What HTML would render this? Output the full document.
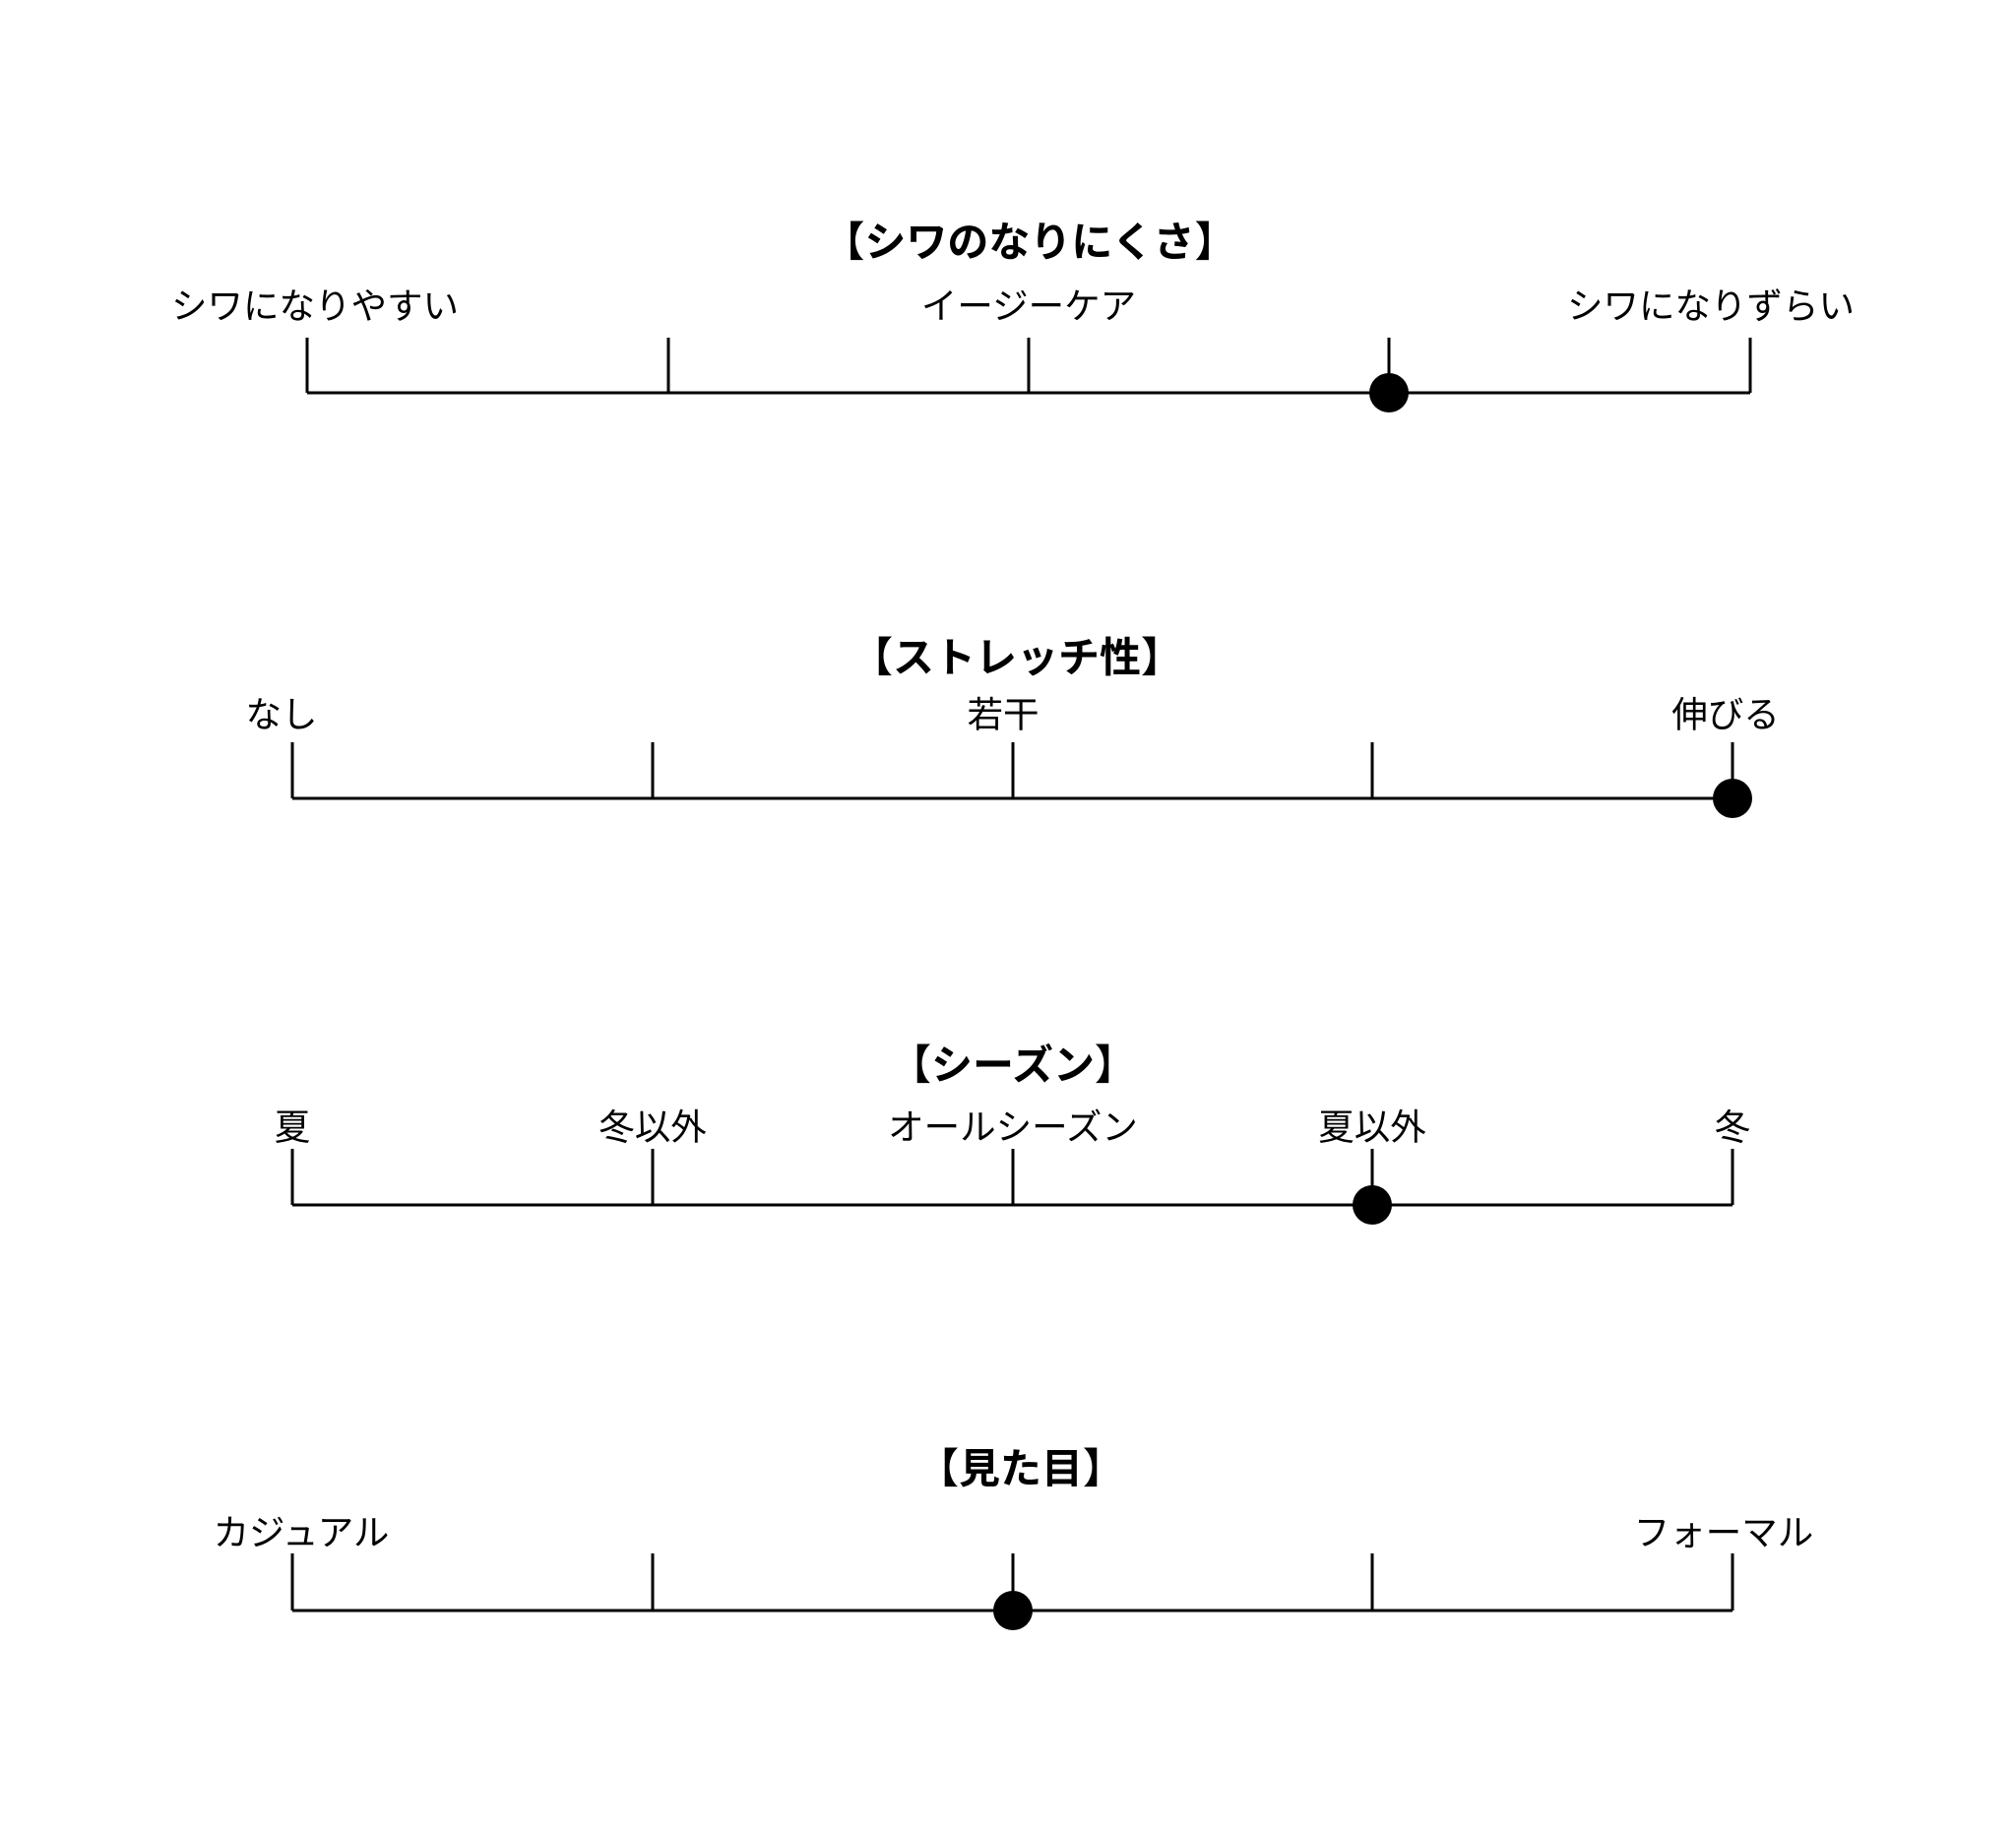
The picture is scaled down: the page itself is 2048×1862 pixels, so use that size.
<!DOCTYPE html>
<html><head><meta charset="utf-8"><style>
html,body{margin:0;padding:0;background:#fff;}
svg{display:block}
text{font-family:"Liberation Sans","Noto Sans CJK JP",sans-serif;fill:#000;text-anchor:middle;dominant-baseline:central}
.t{font-size:42px;font-weight:bold}
.l{font-size:36.5px}
</style></head><body>
<svg width="2048" height="1862" viewBox="0 0 2048 1862" xmlns="http://www.w3.org/2000/svg">
<g stroke="#000" stroke-width="3" fill="none">
<path d="M312 399H1778M312 343V399M679 343V399M1045 343V399M1411 343V399M1778 343V399"/>
<path d="M297 811H1760M297 754V811M663 754V811M1029 754V811M1394 754V811M1760 754V811"/>
<path d="M297 1224H1760M297 1167V1224M663 1167V1224M1029 1167V1224M1394 1167V1224M1760 1167V1224"/>
<path d="M297 1636H1760M297 1578V1636M663 1578V1636M1029 1578V1636M1394 1578V1636M1760 1578V1636"/>
</g>
<circle cx="1411" cy="399" r="20"/>
<circle cx="1760" cy="811" r="20"/>
<circle cx="1394" cy="1224" r="20"/>
<circle cx="1029" cy="1636" r="20"/>
<text class="t" x="1046" y="246">【シワのなりにくさ】</text>
<text class="l" x="320" y="311">シワになりやすい</text>
<text class="l" x="1045" y="311">イージーケア</text>
<text class="l" x="1738" y="311">シワになりずらい</text>
<text class="t" x="1033" y="668">【ストレッチ性】</text>
<text class="l" x="286" y="726">なし</text>
<text class="l" x="1019" y="726">若干</text>
<text class="l" x="1753" y="726">伸びる</text>
<text class="t" x="1029" y="1082">【シーズン】</text>
<text class="l" x="297" y="1145">夏</text>
<text class="l" x="663" y="1145">冬以外</text>
<text class="l" x="1029" y="1145">オールシーズン</text>
<text class="l" x="1394" y="1145">夏以外</text>
<text class="l" x="1760" y="1145">冬</text>
<text class="t" x="1037" y="1492">【見た目】</text>
<text class="l" x="306" y="1557">カジュアル</text>
<text class="l" x="1751" y="1557">フォーマル</text>
</svg>
</body></html>
